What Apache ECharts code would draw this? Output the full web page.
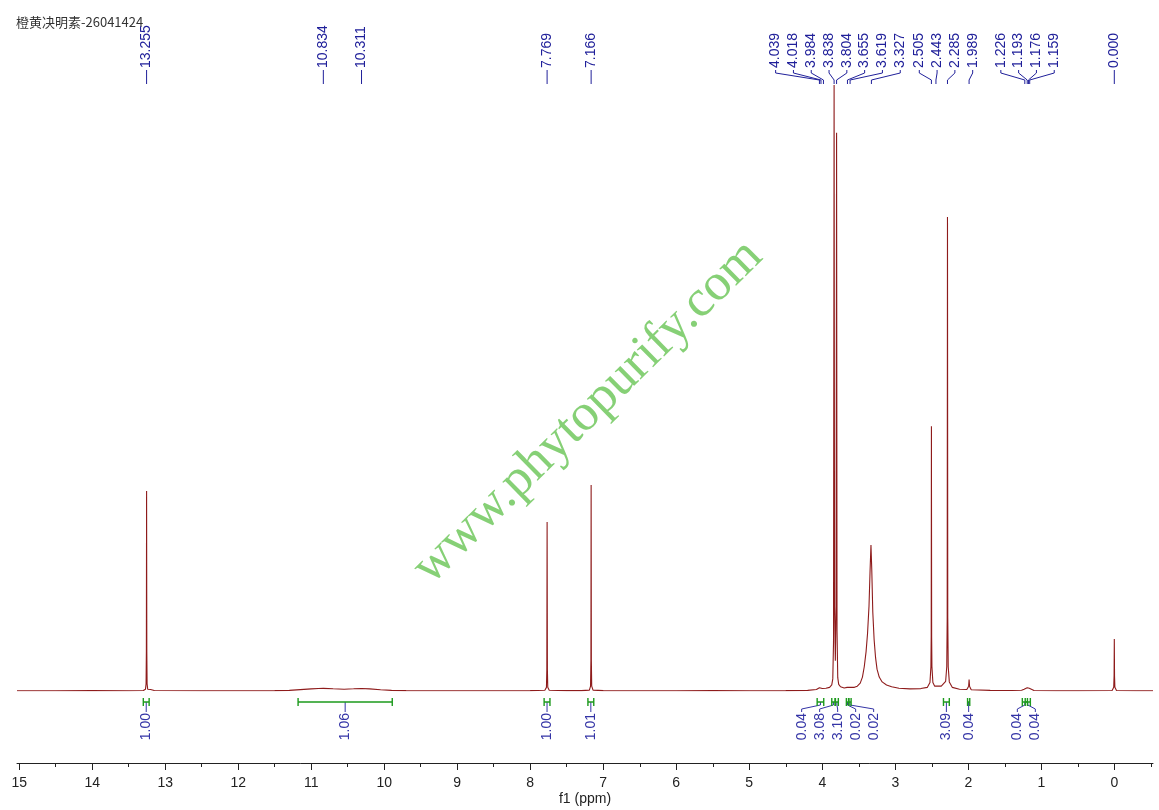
<!DOCTYPE html>
<html><head><meta charset="utf-8">
<script src="https://cdn.jsdelivr.net/npm/echarts@6/dist/echarts.min.js"></script>
<style>html,body{margin:0;padding:0;background:#fff}#c{width:1159px;height:810px}</style>
</head><body><div id="c"></div>
<script>
// ---------------- data ----------------
const title = '橙黄决明素-26041424';
const watermark = 'www.phytopurify.com';
const axisName = 'f1 (ppm)';
const xTicks = [15, 14, 13, 12, 11, 10, 9, 8, 7, 6, 5, 4, 3, 2, 1, 0];

// spectrum trace: [ppm, relative intensity]
const spectrum = [
  [15.03,0.05],[14.5,0.05],[14.0,0.06],[13.5,0.05],[13.30,0.08],
  [13.27,0.3],[13.262,1.2],[13.258,6.5],[13.255,33.0],[13.252,6.5],[13.248,1.2],[13.24,0.3],[13.20,0.25],[13.15,0.08],
  [12.5,0.05],[12.0,0.05],[11.5,0.06],[11.3,0.1],[11.15,0.22],[11.0,0.35],[10.9,0.42],[10.834,0.44],[10.7,0.36],
  [10.55,0.3],[10.42,0.36],[10.311,0.42],[10.2,0.35],[10.05,0.2],[9.9,0.1],[9.7,0.06],
  [9.0,0.05],[8.5,0.05],[8.0,0.06],[7.80,0.12],[7.778,0.6],[7.773,3.5],[7.769,27.9],[7.765,3.5],[7.76,0.6],[7.74,0.12],
  [7.5,0.06],[7.3,0.06],[7.19,0.15],[7.174,0.8],[7.169,5],[7.166,34.0],[7.163,5],[7.158,0.8],[7.14,0.15],[7.0,0.06],
  [6.5,0.05],[6.0,0.05],[5.5,0.06],[5.0,0.05],[4.5,0.06],[4.2,0.1],[4.08,0.25],[4.039,0.55],[4.03,0.5],[4.018,0.55],
  [4.0,0.4],[3.984,0.42],[3.95,0.45],[3.90,0.6],[3.87,1.0],[3.856,2.0],[3.846,8],[3.838,100],[3.832,14],[3.821,5],
  [3.811,14],[3.804,92.1],[3.798,10],[3.788,2.2],[3.775,1.1],[3.75,0.7],[3.70,0.5],[3.66,0.6],[3.655,0.75],[3.645,0.5],
  [3.625,0.6],[3.619,0.7],[3.61,0.55],[3.56,0.6],[3.52,0.8],[3.48,1.3],[3.45,2.3],[3.425,4.0],[3.40,6.5],[3.38,9.5],
  [3.36,14],[3.345,20],[3.333,24.1],[3.322,20],[3.308,13],[3.29,8.5],[3.27,5.5],[3.25,3.6],[3.22,2.3],[3.18,1.5],
  [3.12,1.0],[3.05,0.7],[2.95,0.45],[2.8,0.35],[2.65,0.4],[2.56,0.6],[2.525,1.4],[2.512,4],[2.508,9],[2.505,43.7],
  [2.502,9],[2.498,4],[2.485,1.4],[2.46,0.8],[2.443,0.95],[2.43,0.8],[2.37,0.8],[2.31,1.6],[2.295,4],[2.289,12],
  [2.285,78.2],[2.281,12],[2.275,4],[2.26,1.5],[2.22,0.6],[2.12,0.3],[2.02,0.25],[1.995,0.8],[1.989,1.9],[1.983,0.8],
  [1.96,0.2],[1.7,0.1],[1.4,0.08],[1.27,0.12],[1.235,0.3],[1.226,0.5],[1.21,0.35],[1.193,0.55],[1.185,0.5],[1.176,0.55],
  [1.165,0.45],[1.159,0.45],[1.14,0.15],[1.1,0.08],[0.8,0.05],[0.5,0.05],[0.03,0.08],[0.008,0.6],[0.003,2.5],[0.0,8.6],
  [-0.003,2.5],[-0.008,0.6],[-0.03,0.08],[-0.3,0.05],[-0.53,0.05]
];

// peak picking labels (ppm)
const peakLabels = [13.255, 10.834, 10.311, 7.769, 7.166, 4.039, 4.018, 3.984, 3.838, 3.804, 3.655, 3.619, 3.327,
  2.505, 2.443, 2.285, 1.989, 1.226, 1.193, 1.176, 1.159, 0.000];

// integrations
const integralValues = [1.00, 1.06, 1.00, 1.01, 0.04, 3.08, 3.10, 0.02, 0.02, 3.09, 0.04, 0.04, 0.04];
const integralFrom   = [13.30, 11.18, 7.81, 7.21, 4.07, 3.87, 3.82, 3.67, 3.635, 2.34, 2.01, 1.26, 1.22];
const integralTo     = [13.22, 9.89, 7.73, 7.13, 3.98, 3.825, 3.78, 3.64, 3.605, 2.26, 1.98, 1.19, 1.15];

// ---------------- layout ----------------
const X_MAX = 15.03, X_MIN = -0.53;
const GL = 17, GW = 1136, GTOP = 85, GBOT = 119;
const ppx = GW / (X_MAX - X_MIN);
const TICK_MAX = xTicks[0], TICK_MIN = xTicks[xTicks.length - 1] - 1;
const AX_OFF = 72;
const FONT = '"Liberation Sans", Arial, sans-serif';

const chart = echarts.init(document.getElementById('c'), null, {renderer: 'canvas'});
chart.setOption({
  animation: false,
  backgroundColor: '#fff',
  grid: [
    {left: GL, width: GW, top: GTOP, bottom: GBOT, outerBoundsMode: 'none', containLabel: false},
    {left: GL + (X_MAX - TICK_MAX) * ppx, width: (TICK_MAX - TICK_MIN) * ppx, top: GTOP, bottom: GBOT,
     outerBoundsMode: 'none', containLabel: false}
  ],
  xAxis: [
    {type: 'value', gridIndex: 0, inverse: true, min: X_MIN, max: X_MAX, offset: AX_OFF,
     axisLine: {show: true, onZero: false, lineStyle: {color: '#222', width: 1}},
     axisTick: {show: false}, axisLabel: {show: false}, splitLine: {show: false},
     name: axisName, nameLocation: 'middle', nameGap: 29,
     nameTextStyle: {fontFamily: FONT, fontSize: 14, color: '#222'}},
    {type: 'value', gridIndex: 1, inverse: true, min: TICK_MIN, max: TICK_MAX, interval: 1, offset: AX_OFF,
     axisLine: {show: false, onZero: false},
     axisTick: {show: true, length: 7, lineStyle: {color: '#222', width: 1}},
     minorTick: {show: true, splitNumber: 2, length: 4, lineStyle: {color: '#222', width: 1}},
     axisLabel: {show: true, margin: 13, fontFamily: FONT, fontSize: 14, color: '#222',
       formatter: v => (xTicks.indexOf(v) >= 0 ? String(v) : '')},
     splitLine: {show: false}}
  ],
  yAxis: [
    {type: 'value', gridIndex: 0, min: 0, max: 100, show: false},
    {type: 'value', gridIndex: 1, min: 0, max: 100, show: false}
  ],
  series: [{
    type: 'line', xAxisIndex: 0, yAxisIndex: 0, data: spectrum, showSymbol: false, symbol: 'none',
    sampling: false, lineStyle: {color: '#8e1b1b', width: 1.1}, z: 3
  }]
});

function spread(xs, gap) {
  let groups = xs.map((x, i) => ({idx: [i], sum: x, n: 1, start: x}));
  let changed = true;
  while (changed) {
    changed = false;
    for (let i = 0; i < groups.length - 1; i++) {
      const a = groups[i], b = groups[i + 1];
      if (b.start - (a.start + (a.n - 1) * gap) < gap) {
        const m = {idx: a.idx.concat(b.idx), sum: a.sum + b.sum, n: a.n + b.n};
        m.start = m.sum / m.n - (m.n - 1) * gap / 2;
        groups.splice(i, 2, m); changed = true; break;
      }
    }
  }
  const out = [];
  groups.forEach(g => g.idx.forEach((id, k) => out[id] = g.start + k * gap));
  return out;
}
const px = v => chart.convertToPixel({gridIndex: 0}, [v, 0])[0];

const graphics = [];
// watermark
graphics.push({type: 'text', x: 588, y: 412, rotation: 44.5 * Math.PI / 180, z: 1, silent: true,
  style: {text: watermark, x: 0, y: 0, font: '52px "Liberation Serif", "Times New Roman", serif',
    fill: 'rgba(100,195,80,0.78)', align: 'center', verticalAlign: 'middle',
    textAlign: 'center', textVerticalAlign: 'middle'}});
// title
graphics.push({type: 'text', x: 16, y: 22, z: 20, silent: true,
  style: {text: title, x: 0, y: 0, font: '13px "Noto Sans CJK SC", sans-serif', fill: '#333',
    align: 'left', verticalAlign: 'middle', textAlign: 'left', textVerticalAlign: 'middle'}});

// peak labels
const PEAK_COL = '#20209a';
const peakX = peakLabels.map(px);
const peakLX = spread(peakX, 17.8);
peakLabels.forEach((v, i) => {
  const lx = peakLX[i], pxx = peakX[i];
  graphics.push({type: 'text', x: lx, y: 68, rotation: Math.PI / 2, z: 20, silent: true,
    style: {text: v.toFixed(3), x: 0, y: 0, font: '14px ' + FONT, fill: PEAK_COL,
      align: 'left', verticalAlign: 'middle', textAlign: 'left', textVerticalAlign: 'middle'}});
  graphics.push({type: 'polyline', z: 20, silent: true,
    shape: {points: [[lx, 70], [lx, 73], [pxx, 80], [pxx, 84]]},
    style: {stroke: PEAK_COL, fill: null, lineWidth: 1}});
});

// integrals
const INT_COL = '#3434a6', GREEN = '#1d9a1d';
const intCX = integralValues.map((v, i) => (px(integralFrom[i]) + px(integralTo[i])) / 2);
const intLX = spread(intCX, 18);
integralValues.forEach((v, i) => {
  const x1 = px(integralFrom[i]), x2 = px(integralTo[i]);
  graphics.push({type: 'polyline', z: 21, silent: true,
    shape: {points: [[x1, 698], [x1, 706], [x1, 702], [x2, 702], [x2, 698], [x2, 706]]},
    style: {stroke: GREEN, fill: null, lineWidth: 1.4}});
  const cx = intCX[i], lx = intLX[i];
  graphics.push({type: 'polyline', z: 20, silent: true,
    shape: {points: [[cx, 702], [cx, 705], [lx, 709], [lx, 712]]},
    style: {stroke: INT_COL, fill: null, lineWidth: 1}});
  graphics.push({type: 'text', x: lx, y: 713, rotation: Math.PI / 2, z: 20, silent: true,
    style: {text: v.toFixed(2), x: 0, y: 0, font: '14px ' + FONT, fill: INT_COL,
      align: 'right', verticalAlign: 'middle', textAlign: 'right', textVerticalAlign: 'middle'}});
});

chart.setOption({graphic: {elements: graphics}});
</script>
</body></html>
